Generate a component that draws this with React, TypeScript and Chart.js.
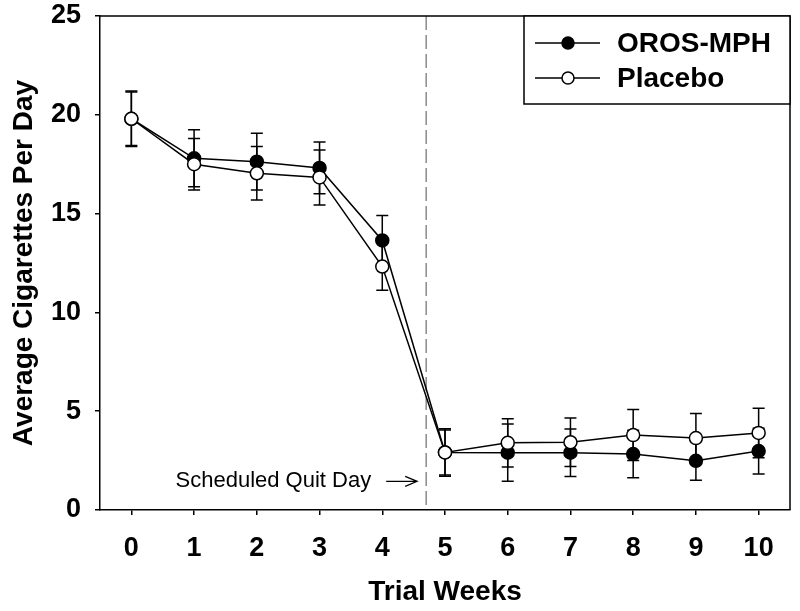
import { useEffect, useRef } from "react";
import { Chart, registerables } from "chart.js";

Chart.register(...registerables);

const weeks = [0, 1, 2, 3, 4, 5, 6, 7, 8, 9, 10];
const orosMean = [19.8, 17.8, 17.63, 17.31, 13.64, 2.91, 2.9, 2.9, 2.83, 2.49, 2.98];
const orosSE = [1.4, 1.44, 1.43, 1.31, 1.27, 1.2, 1.45, 1.2, 1.2, 0.98, 1.16];
const placeboMean = [19.8, 17.5, 17.04, 16.83, 12.32, 2.91, 3.4, 3.43, 3.79, 3.64, 3.9];
const placeboSE = [1.35, 1.3, 1.35, 1.39, 1.2, 1.14, 1.22, 1.23, 1.29, 1.24, 1.25];
const yTicks = [0, 5, 10, 15, 20, 25];
const seriesNames = ["OROS-MPH", "Placebo"];
const quitDayWeek = 4.7;
const quitDayLabel = "Scheduled Quit Day";
const xTitle = "Trial Weeks";
const yTitle = "Average Cigarettes Per Day";

const FONT = "'Liberation Sans', Arial, Helvetica, sans-serif";

export default function App() {
  const ref = useRef<HTMLCanvasElement>(null);

  useEffect(() => {
    const canvas = ref.current;
    if (!canvas) return;

    const series = [
      { mean: orosMean, se: orosSE },
      { mean: placeboMean, se: placeboSE },
    ];

    const under = {
      id: "under",
      beforeDatasetsDraw(chart: any) {
        const { ctx, chartArea } = chart;
        const xs = chart.scales.x;
        const ys = chart.scales.y;
        ctx.save();
        const qx = xs.getPixelForValue(quitDayWeek);
        ctx.strokeStyle = "#8a8a8a";
        ctx.lineWidth = 1.5;
        ctx.setLineDash([14, 5]);
        ctx.beginPath();
        ctx.moveTo(qx, chartArea.top);
        ctx.lineTo(qx, chartArea.bottom);
        ctx.stroke();
        ctx.setLineDash([]);
        ctx.strokeStyle = "#000";
        ctx.lineWidth = 1.5;
        const cap = 6;
        for (const s of series) {
          for (let i = 0; i < weeks.length; i++) {
            const x = xs.getPixelForValue(weeks[i]);
            const yt = ys.getPixelForValue(s.mean[i] + s.se[i]);
            const yb = ys.getPixelForValue(s.mean[i] - s.se[i]);
            ctx.beginPath();
            ctx.moveTo(x, yt);
            ctx.lineTo(x, yb);
            ctx.moveTo(x - cap, yt);
            ctx.lineTo(x + cap, yt);
            ctx.moveTo(x - cap, yb);
            ctx.lineTo(x + cap, yb);
            ctx.stroke();
          }
        }
        const ay = ys.getPixelForValue(1.45);
        const aEnd = qx - 9;
        const aStart = aEnd - 31;
        ctx.beginPath();
        ctx.lineWidth = 1.2;
        ctx.moveTo(aStart, ay);
        ctx.lineTo(aEnd, ay);
        ctx.moveTo(aEnd - 12, ay - 5);
        ctx.lineTo(aEnd, ay);
        ctx.lineTo(aEnd - 12, ay + 5);
        ctx.stroke();
        ctx.fillStyle = "#000";
        ctx.font = `22px ${FONT}`;
        ctx.textAlign = "right";
        ctx.textBaseline = "middle";
        ctx.fillText(quitDayLabel, aStart - 15, ay);
        ctx.restore();
      },
      afterDraw(chart: any) {
        const { ctx, chartArea } = chart;
        ctx.save();
        ctx.strokeStyle = "#000";
        ctx.lineWidth = 1.5;
        ctx.beginPath();
        ctx.moveTo(chartArea.left, chartArea.top);
        ctx.lineTo(chartArea.right, chartArea.top);
        ctx.lineTo(chartArea.right, chartArea.bottom);
        ctx.stroke();
        const bw = 266;
        const bh = 88;
        const bl = chartArea.right - bw;
        const bt = chartArea.top;
        ctx.fillStyle = "#fff";
        ctx.fillRect(bl, bt, bw, bh);
        ctx.strokeRect(bl, bt, bw, bh);
        const fills = ["#000", "#fff"];
        const rows = [bt + 27, bt + 62];
        for (let k = 0; k < 2; k++) {
          const y = rows[k];
          ctx.beginPath();
          ctx.moveTo(bl + 11, y);
          ctx.lineTo(bl + 76, y);
          ctx.stroke();
          ctx.beginPath();
          ctx.arc(bl + 44, y, 6, 0, Math.PI * 2);
          ctx.fillStyle = fills[k];
          ctx.fill();
          ctx.stroke();
          ctx.fillStyle = "#000";
          ctx.font = `bold 28px ${FONT}`;
          ctx.textAlign = "left";
          ctx.textBaseline = "middle";
          ctx.fillText(seriesNames[k], bl + 93, y + 1);
        }
        ctx.restore();
      },
    };

    const chart = new Chart(canvas, {
      type: "scatter",
      data: {
        datasets: [
          {
            label: seriesNames[0],
            data: weeks.map((w, i) => ({ x: w, y: orosMean[i] })),
            showLine: true,
            borderColor: "#000",
            borderWidth: 1.5,
            pointRadius: 6.5,
            pointBorderWidth: 1.5,
            pointBackgroundColor: "#000",
            pointBorderColor: "#000",
            order: 2,
          },
          {
            label: seriesNames[1],
            data: weeks.map((w, i) => ({ x: w, y: placeboMean[i] })),
            showLine: true,
            borderColor: "#000",
            borderWidth: 1.5,
            pointRadius: 6.5,
            pointBorderWidth: 1.5,
            pointBackgroundColor: "#fff",
            pointBorderColor: "#000",
            order: 1,
          },
        ],
      },
      options: {
        animation: false,
        responsive: true,
        maintainAspectRatio: false,
        layout: { padding: { top: 16, right: 10, left: 0, bottom: 0 } },
        plugins: {
          legend: { display: false },
          tooltip: { enabled: false },
        },
        scales: {
          x: {
            type: "linear",
            min: -0.5,
            max: 10.5,
            afterBuildTicks: (s: any) => {
              s.ticks = weeks.map((v) => ({ value: v }));
            },
            afterFit: (s: any) => {
              s.height = 101;
              s.paddingLeft = 0;
              s.paddingRight = 0;
            },
            grid: {
              drawOnChartArea: false,
              drawTicks: true,
              tickLength: 5,
              color: "#000",
              lineWidth: 1.5,
            },
            border: { display: true, color: "#000", width: 1.5 },
            ticks: {
              color: "#000",
              padding: 17,
              font: { family: FONT, size: 27, weight: "bold" },
            },
            title: {
              display: true,
              text: xTitle,
              color: "#000",
              padding: { top: 0, bottom: 2 },
              font: { family: FONT, size: 28, weight: "bold" },
            },
          },
          y: {
            type: "linear",
            min: 0,
            max: 25,
            afterBuildTicks: (s: any) => {
              s.ticks = yTicks.map((v) => ({ value: v }));
            },
            afterFit: (s: any) => {
              s.width = 100;
              s.paddingTop = 0;
              s.paddingBottom = 0;
            },
            grid: {
              drawOnChartArea: false,
              drawTicks: true,
              tickLength: 5,
              color: "#000",
              lineWidth: 1.5,
            },
            border: { display: true, color: "#000", width: 1.5 },
            ticks: {
              color: "#000",
              padding: 14,
              font: { family: FONT, size: 27, weight: "bold" },
            },
            title: {
              display: true,
              text: yTitle,
              color: "#000",
              padding: { top: 7, bottom: 0 },
              font: { family: FONT, size: 28, weight: "bold" },
            },
          },
        },
      },
      plugins: [under],
    } as any);

    return () => chart.destroy();
  }, []);

  return (
    <div style={{ position: "absolute", left: 0, top: 0, width: 800, height: 611, background: "#fff" }}>
      <canvas ref={ref} />
    </div>
  );
}
